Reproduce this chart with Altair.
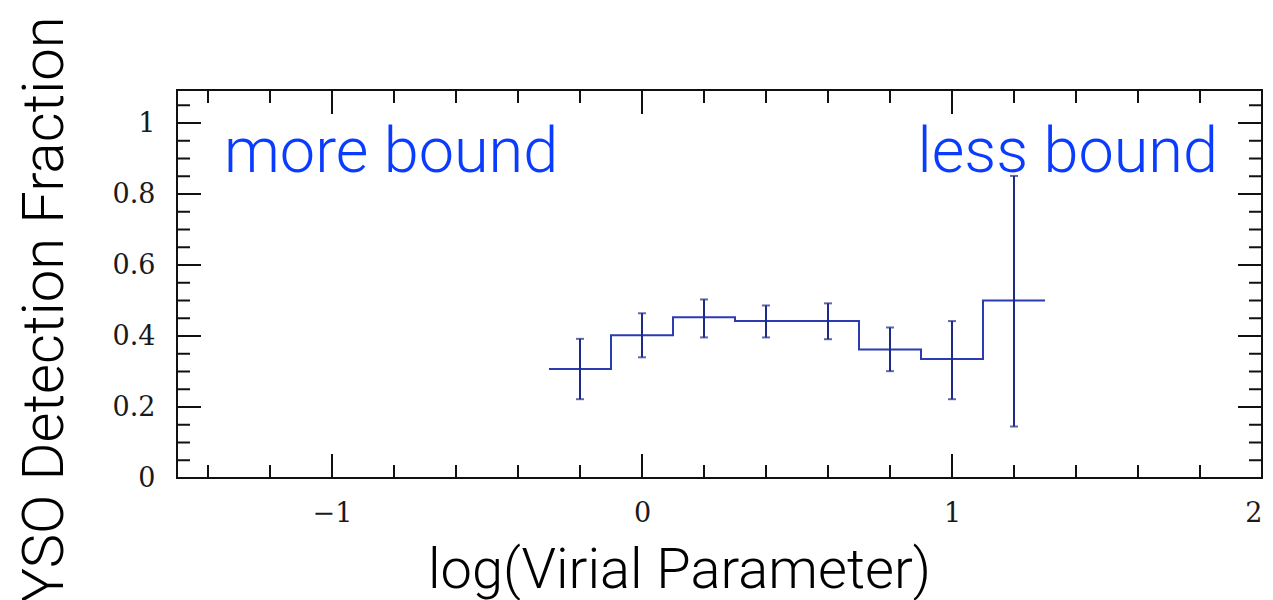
import altair as alt
import pandas as pd

# ---- data ----
bin_centers = [-0.2, 0.0, 0.2, 0.4, 0.6, 0.8, 1.0, 1.2]
bin_width = 0.2
fraction = [0.307, 0.402, 0.453, 0.442, 0.442, 0.362, 0.335, 0.50]
err_low = [0.222, 0.340, 0.396, 0.396, 0.391, 0.301, 0.222, 0.145]
err_high = [0.392, 0.464, 0.503, 0.486, 0.492, 0.424, 0.442, 0.851]

x_major = [-1, 0, 1]
x_minor = [-1.4, -1.2, -0.8, -0.6, -0.4, -0.2, 0.2, 0.4, 0.6, 0.8, 1.2, 1.4, 1.6, 1.8]
x_labels = [-1, 0, 1, 2]
y_major = [0.2, 0.4, 0.6, 0.8, 1.0]
y_minor = [0.05, 0.1, 0.15, 0.25, 0.3, 0.35, 0.45, 0.5, 0.55, 0.65, 0.7, 0.75,
           0.85, 0.9, 0.95, 1.05]
y_labels = [0, 0.2, 0.4, 0.6, 0.8, 1]

X_DOMAIN = [-1.5, 2.0]
Y_DOMAIN = [0.0, 1.093]

W, H = 1085, 388
LINE_BLUE = "#2b3bb0"
ERR_BLUE = "#1e2a88"
TEXT_BLUE = "#0a3cff"

# step line table built from bin edges
edges = [c - bin_width / 2 for c in bin_centers] + [bin_centers[-1] + bin_width / 2]
step_df = pd.DataFrame({"x": edges, "y": fraction + [fraction[-1]]})
err_df = pd.DataFrame({"x": bin_centers, "lo": err_low, "hi": err_high, "y": fraction})

xs = alt.Scale(domain=X_DOMAIN, nice=False, zero=False)
ys = alt.Scale(domain=Y_DOMAIN, nice=False, zero=False)

axis_base = alt.Chart(pd.DataFrame({"x": [X_DOMAIN[0]], "y": [Y_DOMAIN[0]]})).mark_point(opacity=0).encode(
    x=alt.X("x:Q", scale=xs,
            axis=alt.Axis(values=x_labels, title="log(Virial Parameter)", tickSize=0, domain=False,
                          grid=False, labelPadding=22, labelFont="DejaVu Serif", labelFontSize=27,
                          labelColor="#1a1a1a", format="~g",
                          titleFont="Roboto", titleFontWeight=300, titleFontSize=56,
                          titleColor="#000000", titleBaseline="alphabetic",
                          titleX=502, titleY=109, titleAnchor="middle")),
    y=alt.Y("y:Q", scale=ys,
            axis=alt.Axis(values=y_labels, title="YSO Detection Fraction", tickSize=0, domain=False,
                          grid=False, labelPadding=22, labelFont="DejaVu Serif", labelFontSize=27,
                          labelColor="#1a1a1a", format="~g",
                          titleFont="Roboto", titleFontWeight=300, titleFontSize=58,
                          titleColor="#000000", titleBaseline="alphabetic",
                          titleX=-115, titleY=219, titleAnchor="middle")),
)

def xticks(vals, length):
    d = pd.DataFrame({"x": vals})
    bottom = alt.Chart(d).mark_rule(color="#111111", strokeWidth=2).encode(
        x=alt.X("x:Q", scale=xs), y=alt.value(H), y2=alt.value(H - length))
    top = alt.Chart(d).mark_rule(color="#111111", strokeWidth=2).encode(
        x=alt.X("x:Q", scale=xs), y=alt.value(0), y2=alt.value(length))
    return [bottom, top]

def yticks(vals, length):
    d = pd.DataFrame({"y": vals})
    left = alt.Chart(d).mark_rule(color="#111111", strokeWidth=2).encode(
        y=alt.Y("y:Q", scale=ys), x=alt.value(0), x2=alt.value(length))
    right = alt.Chart(d).mark_rule(color="#111111", strokeWidth=2).encode(
        y=alt.Y("y:Q", scale=ys), x=alt.value(W), x2=alt.value(W - length))
    return [left, right]

ticks = xticks(x_major, 24) + xticks(x_minor, 13) + yticks(y_major, 24) + yticks(y_minor, 13)

step = alt.Chart(step_df).mark_line(interpolate="step-after", color=LINE_BLUE, strokeWidth=2).encode(
    x=alt.X("x:Q", scale=xs), y=alt.Y("y:Q", scale=ys))

err_rule = alt.Chart(err_df).mark_rule(color=ERR_BLUE, strokeWidth=2).encode(
    x=alt.X("x:Q", scale=xs), y=alt.Y("lo:Q", scale=ys), y2="hi:Q")
cap_lo = alt.Chart(err_df).mark_tick(color=ERR_BLUE, orient="horizontal", size=8, thickness=2).encode(
    x=alt.X("x:Q", scale=xs), y=alt.Y("lo:Q", scale=ys))
cap_hi = alt.Chart(err_df).mark_tick(color=ERR_BLUE, orient="horizontal", size=8, thickness=2).encode(
    x=alt.X("x:Q", scale=xs), y=alt.Y("hi:Q", scale=ys))

more = alt.Chart(pd.DataFrame({"t": ["more bound"]})).mark_text(
    font="Roboto", fontWeight=300, fontSize=63, color=TEXT_BLUE,
    align="left", baseline="alphabetic").encode(
    text="t:N", x=alt.value(47), y=alt.value(82))
less = alt.Chart(pd.DataFrame({"t": ["less bound"]})).mark_text(
    font="Roboto", fontWeight=300, fontSize=63, color=TEXT_BLUE,
    align="right", baseline="alphabetic").encode(
    text="t:N", x=alt.value(1041), y=alt.value(82))

chart = alt.layer(axis_base, *ticks, step, err_rule, cap_lo, cap_hi, more, less).properties(
    width=W, height=H,
    autosize=alt.AutoSizeParams(type="none"),
    padding={"left": 177, "top": 90, "right": 11, "bottom": 122},
    background="white",
).configure_view(stroke="#111111", strokeWidth=2)

chart.save("out.html", embed_options={"renderer": "svg", "actions": False})
